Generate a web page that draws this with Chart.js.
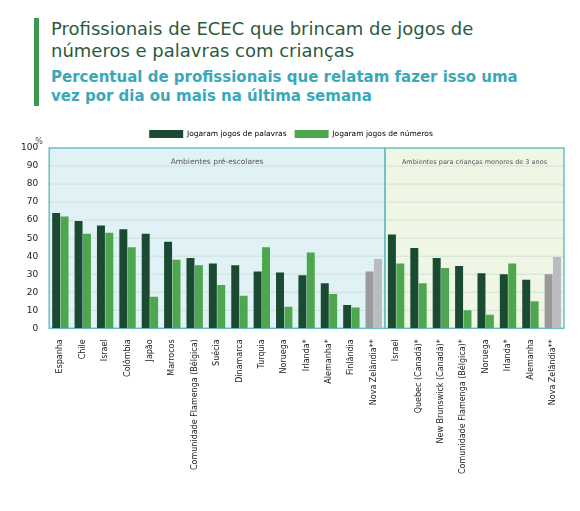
<!DOCTYPE html>
<html><head><meta charset="utf-8">
<script src="https://cdn.jsdelivr.net/npm/chart.js"></script>
<style>
body{margin:0;background:#fff;font-family:"DejaVu Sans",sans-serif}
#head{position:absolute;left:34px;top:18px;border-left:5px solid #3a9a4e;padding-left:12px;width:490px}
#t1{color:#2b5a3c;font-size:18px;line-height:22px}
#t2{color:#3aa8b8;font-size:15px;font-weight:bold;line-height:19px;margin-top:6px}
#wrap{position:absolute;left:12px;top:122px;width:556px;height:355px}
</style></head><body>
<div id="head"><div id="t1">Profissionais de ECEC que brincam de jogos de números e palavras com crianças</div>
<div id="t2">Percentual de profissionais que relatam fazer isso uma vez por dia ou mais na última semana</div></div>
<div id="wrap"><canvas id="c"></canvas></div>
<script>
const categories = ["Espanha","Chile","Israel","Colômbia","Japão","Marrocos","Comunidade Flamenga (Bélgica)","Suécia","Dinamarca","Turquia","Noruega","Irlanda*","Alemanha*","Finlândia","Nova Zelândia**",
  "Israel","Quebec (Canadá)*","New Brunswick (Canadá)*","Comunidade Flamenga (Bélgica)*","Noruega","Irlanda*","Alemanha","Nova Zelândia**"];
const palavras = [64,59.5,57,55,52.5,48,39,36,35,31.5,31,29.5,25,13,31.5, 52,44.5,39,34.5,30.5,30,27,30];
const numeros = [62,52.5,53,45,17.5,38,35,24,18,45,12,42,19,11.5,38.5, 36,25,33.5,10,7.5,36,15,39.5];
const yTicks = [0,10,20,30,40,50,60,70,80,90,100];
const leftCount = 15;
const isNZ = i => categories[i].startsWith("Nova Zel");

const panels = {
  id: "panels",
  beforeDatasetsDraw(ch) {
    const {ctx, chartArea: a, scales: {x}} = ch;
    const split = (x.getPixelForValue(leftCount - 1) + x.getPixelForValue(leftCount)) / 2;
    ctx.save();
    ctx.fillStyle = "#e0f2f6"; ctx.fillRect(a.left, a.top, split - a.left, a.bottom - a.top);
    ctx.fillStyle = "#eff6e3"; ctx.fillRect(split, a.top, a.right - split, a.bottom - a.top);
    ctx.strokeStyle = "#cfe0d8"; ctx.lineWidth = 1;
    const y = ch.scales.y;
    yTicks.forEach(t => { if (t > 0 && t < 100) { const p = y.getPixelForValue(t); ctx.beginPath(); ctx.moveTo(a.left, p); ctx.lineTo(a.right, p); ctx.stroke(); } });
    ctx.strokeStyle = "#6bbfc6"; ctx.lineWidth = 1.5;
    ctx.strokeRect(a.left, a.top, split - a.left, a.bottom - a.top);
    ctx.strokeRect(split, a.top, a.right - split, a.bottom - a.top);
    ctx.fillStyle = "#555"; ctx.font = "7.5px 'DejaVu Sans'"; ctx.textAlign = "center";
    ctx.fillText("Ambientes pré-escolares", (a.left + split) / 2, a.top + 14);
    ctx.font = "6.5px 'DejaVu Sans'";
    ctx.fillText("Ambientes para crianças menores de 3 anos", (split + a.right) / 2, a.top + 14);
    ctx.font = "8px 'DejaVu Sans'";
    ctx.textAlign = "left"; ctx.fillText("%", a.left - 14, a.top - 6);
    ctx.restore();
  }
};

new Chart(document.getElementById("c"), {
  type: "bar",
  data: {
    labels: categories,
    datasets: [
      {label: "Jogaram jogos de palavras", data: palavras,
       backgroundColor: palavras.map((v, i) => isNZ(i) ? "#9a9a9c" : "#1b4a33")},
      {label: "Jogaram jogos de números", data: numeros,
       backgroundColor: numeros.map((v, i) => isNZ(i) ? "#bcbcc0" : "#4ea64e")}
    ]
  },
  options: {
    responsive: true, maintainAspectRatio: false, animation: false,
    layout: {padding: {top: 0, right: 4, left: 6}},
    datasets: {bar: {categoryPercentage: 0.75, barPercentage: 0.95}},
    plugins: {
      legend: {labels: {boxWidth: 34, boxHeight: 8, padding: 8, font: {size: 7.5, family: "DejaVu Sans"}, color: "#333",
        generateLabels: () => [
          {text: "Jogaram jogos de palavras", fillStyle: "#1b4a33", strokeStyle: "#1b4a33", lineWidth: 0},
          {text: "Jogaram jogos de números", fillStyle: "#4ea64e", strokeStyle: "#4ea64e", lineWidth: 0}
        ]}},
      tooltip: {enabled: false}
    },
    scales: {
      x: {grid: {display: false}, border: {display: false},
          ticks: {autoSkip: false, maxRotation: 90, minRotation: 90, color: "#222", font: {size: 8, family: "DejaVu Sans"},
            callback: (v, i) => categories[i]}},
      y: {min: 0, max: 100, grid: {display: false}, border: {display: false},
          afterBuildTicks: s => { s.ticks = yTicks.map(v => ({value: v})); },
          ticks: {color: "#222", font: {size: 9, family: "DejaVu Sans"}}}
    }
  },
  plugins: [panels]
});
</script></body></html>
